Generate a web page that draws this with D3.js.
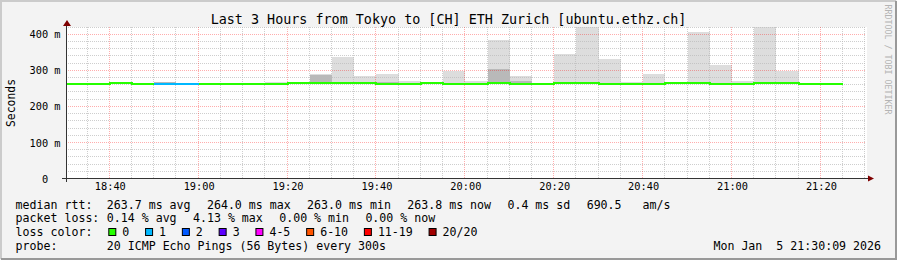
<!DOCTYPE html>
<html>
<head>
<meta charset="utf-8">
<script src="https://cdn.jsdelivr.net/npm/d3@7"></script>
<style>
  body { margin: 0; background: #f3f3f3; }
  svg { display: block; font-family: "DejaVu Sans Mono", monospace; }
  text { white-space: pre; }
</style>
</head>
<body>
<svg width="897" height="260" xml:space="preserve"></svg>
<script>
// 5 minute bins (start of step)
var binStarts = ["18:30","18:35","18:40","18:45","18:50","18:55","19:00","19:05","19:10","19:15",
                 "19:20","19:25","19:30","19:35","19:40","19:45","19:50","19:55","20:00","20:05",
                 "20:10","20:15","20:20","20:25","20:30","20:35","20:40","20:45","20:50","20:55",
                 "21:00","21:05","21:10","21:15","21:20"];
// median rtt in ms
var medianRtt = [263.3,263.3,264.0,263.3,263.2,263.2,263.3,263.3,263.3,263.3,
                 264.0,264.0,264.0,264.0,263.2,263.3,264.0,263.3,263.3,264.0,
                 263.3,263.3,264.0,264.0,263.3,263.3,263.3,264.0,264.0,263.2,
                 263.2,264.0,264.0,263.0,263.3];
// lost pings out of 20
var lossCount = [0,0,0,0,1,1,0,0,0,0, 0,0,0,0,0,0,0,0,0,0, 0,0,0,0,0,0,0,0,0,0, 0,0,0,0,0];
// smoke: highest ping (light) and dense band (dark), ms
var smokeTop = [null,null,null,null,268,null,null,null,null,267,
                null,290,337,284,290,270,null,299,271,383,
                284,null,345,425,331,268,290,null,406,315,
                270,425,299,null,null];
var smokeInner = [null,null,null,null,268,null,null,null,null,null,
                  null,288,null,null,268,null,null,null,null,303,
                  271,null,null,null,null,null,null,null,null,null,
                  null,null,null,null,null];

var yTickValues = [0, 100, 200, 300, 400];
var yTickLabels = ["0\u00a0\u00a0", "100 m", "200 m", "300 m", "400 m"];

var lossClasses = ["0", "1", "2", "3", "4-5", "6-10", "11-19", "20/20"];
var lossColors = ["#26ff00", "#00b8ff", "#0059ff", "#5e00ff", "#ff00ff", "#ff5500", "#ff0000", "#a10000"];

var rttStats = ["263.7 ms avg", "264.0 ms max", "263.0 ms min", "263.8 ms now", "0.4 ms sd", "690.5   am/s"];
var lossStats = ["0.14 % avg", "4.13 % max", "0.00 % min", "0.00 % now"];
var probeText = "20 ICMP Echo Pings (56 Bytes) every 300s";
var titleText = "Last 3 Hours from Tokyo to [CH] ETH Zurich [ubuntu.ethz.ch]";
var stampText = "Mon Jan  5 21:30:09 2026";

var svg = d3.select("svg"),
    W = 897, H = 260,
    plot = { left: 66, right: 866, top: 27, bottom: 178.5 };

var parse = d3.timeParse("%Y-%m-%d %H:%M:%S"),
    day = "2026-01-05 ";
var t0 = parse(day + "18:30:09"), t1 = parse(day + "21:30:09");

var x = d3.scaleTime().domain([t0, t1]).range([plot.left, plot.right]),
    y = d3.scaleLinear().domain([0, 420]).range([plot.bottom, plot.top]);

function crispX(v) { return Math.round(v) - 0.5; }
function crispY(v) { return Math.floor(v) + 0.5; }
function lossClass(n) {
  if (n <= 3) return n;
  if (n <= 5) return 4;
  if (n <= 10) return 5;
  if (n <= 19) return 6;
  return 7;
}
// keep runs of blanks in svg text
function keep(s) { return s.replace(/ /g, "\u00a0"); }

var bins = binStarts.map(function (s, i) {
  var st = parse(day + s + ":00");
  return {
    start: st,
    end: d3.timeMinute.offset(st, 5),
    median: medianRtt[i],
    loss: lossCount[i],
    top: smokeTop[i],
    inner: smokeInner[i]
  };
});

// background + frame
svg.append("rect").attr("width", W).attr("height", H).attr("fill", "#f3f3f3");
svg.append("path").attr("d", "M1,259 V1 H896").attr("fill", "none").attr("stroke", "#cbcbcb").attr("stroke-width", 2);
svg.append("path").attr("d", "M1,259 H896 V1").attr("fill", "none").attr("stroke", "#999").attr("stroke-width", 2);

// canvas
svg.append("rect")
  .attr("x", plot.left + 1).attr("y", plot.top)
  .attr("width", plot.right - plot.left).attr("height", plot.bottom - plot.top)
  .attr("fill", "#fff");

svg.append("defs").append("clipPath").attr("id", "clip")
  .append("rect")
  .attr("x", plot.left + 1).attr("y", plot.top)
  .attr("width", plot.right - plot.left).attr("height", plot.bottom - plot.top);

var g = svg.append("g").attr("clip-path", "url(#clip)");

// smoke
var smoke = g.append("g");
bins.forEach(function (d) {
  var x0 = Math.round(x(d.start)), x1 = Math.round(x(d.end)), yb = Math.round(y(d.median));
  if (d.top != null) {
    var yt = Math.round(y(d.top));
    smoke.append("rect").attr("x", x0).attr("y", yt).attr("width", x1 - x0).attr("height", yb - yt).attr("fill", "#dddddd");
  }
  if (d.inner != null) {
    var yi = Math.round(y(d.inner));
    smoke.append("rect").attr("x", x0).attr("y", yi).attr("width", x1 - x0).attr("height", yb - yi).attr("fill", "#b9b9b9");
  }
});

// grid
var grid = g.append("g").attr("fill", "none");
var minorT = d3.timeMinute.every(5).range(t0, t1).filter(function (t) { return t.getMinutes() % 20 !== 0; }),
    majorT = d3.timeMinute.every(20).range(t0, t1);
var minorV = d3.range(20, 421, 20).filter(function (v) { return v % 100 !== 0; }),
    majorV = [100, 200, 300, 400];
var minorColor = "rgba(185,185,185,0.7)", majorColor = "rgba(255,0,0,0.32)";

grid.selectAll(".mv").data(minorT).enter().append("line")
  .attr("x1", function (t) { return crispX(x(t)); }).attr("x2", function (t) { return crispX(x(t)); })
  .attr("y1", plot.top).attr("y2", plot.bottom)
  .attr("stroke", minorColor).attr("stroke-dasharray", "1,1");
grid.selectAll(".mh").data(minorV).enter().append("line")
  .attr("x1", plot.left).attr("x2", plot.right)
  .attr("y1", function (v) { return crispY(y(v)); }).attr("y2", function (v) { return crispY(y(v)); })
  .attr("stroke", minorColor).attr("stroke-dasharray", "1,1");
grid.selectAll(".Mv").data(majorT).enter().append("line")
  .attr("x1", function (t) { return crispX(x(t)); }).attr("x2", function (t) { return crispX(x(t)); })
  .attr("y1", plot.top).attr("y2", plot.bottom)
  .attr("stroke", majorColor).attr("stroke-dasharray", "1,1");
grid.selectAll(".Mh").data(majorV).enter().append("line")
  .attr("x1", plot.left).attr("x2", plot.right)
  .attr("y1", function (v) { return crispY(y(v)); }).attr("y2", function (v) { return crispY(y(v)); })
  .attr("stroke", majorColor).attr("stroke-dasharray", "1,1");

// median line
var pts = bins.map(function (d) { return [Math.round(x(d.start)), Math.round(y(d.median))]; });
var last = bins[bins.length - 1];
pts.push([Math.round(x(last.end)), Math.round(y(last.median))]);

g.append("path")
  .attr("d", d3.line().curve(d3.curveStepAfter)(pts))
  .attr("fill", "none").attr("stroke", lossColors[0]).attr("stroke-width", 2);

bins.forEach(function (d) {
  if (d.loss === 0) return;
  var yl = Math.round(y(d.median));
  g.append("line")
    .attr("x1", Math.round(x(d.start))).attr("x2", Math.round(x(d.end)))
    .attr("y1", yl).attr("y2", yl)
    .attr("stroke", lossColors[lossClass(d.loss)]).attr("stroke-width", 2);
});

// axes
var axisColor = "#333";
svg.append("line").attr("x1", plot.left - 4).attr("x2", plot.right + 2)
  .attr("y1", plot.bottom).attr("y2", plot.bottom).attr("stroke", axisColor);
svg.append("line").attr("x1", plot.left + 0.5).attr("x2", plot.left + 0.5)
  .attr("y1", plot.bottom + 3.5).attr("y2", plot.top - 1).attr("stroke", axisColor);
svg.append("path").attr("d", "M63,26 L67,20 L71,26 Z").attr("fill", "#7f0000");
svg.append("path").attr("d", "M868,175.5 L874,178.5 L868,181.5 Z").attr("fill", "#7f0000");

var xAxis = d3.axisBottom(x).tickValues(majorT).tickSize(0).tickPadding(4.5)
  .tickFormat(d3.timeFormat("%H:%M"));
var yAxis = d3.axisLeft(y).tickValues(yTickValues).tickSize(0).tickPadding(5)
  .tickFormat(function (v, i) { return yTickLabels[i]; });

svg.append("g").attr("transform", "translate(0," + plot.bottom + ")").call(xAxis)
  .call(function (a) { a.select(".domain").remove(); })
  .selectAll("text").attr("font-family", "DejaVu Sans Mono").attr("font-size", "10.3px").attr("fill", "#000");
svg.append("g").attr("transform", "translate(" + (plot.left - 0.5) + ",0.3)").call(yAxis)
  .call(function (a) { a.select(".domain").remove(); })
  .selectAll("text").attr("font-family", "DejaVu Sans Mono").attr("font-size", "10.3px").attr("fill", "#000");

// title, axis title, watermark
svg.append("text").attr("x", 448.5).attr("y", 24).attr("text-anchor", "middle")
  .attr("font-size", "13.4px").attr("fill", "#000").text(titleText);
svg.append("text").attr("transform", "translate(15,103) rotate(-90)").attr("text-anchor", "middle")
  .attr("font-size", "11.4px").attr("fill", "#000").text("Seconds");
svg.append("text").attr("transform", "translate(884.5,4.5) rotate(90)")
  .attr("font-size", "8.3px").attr("fill", "#b4b4b4").text("RRDTOOL / TOBI OETIKER");

// legend
var cw = 6.98, gap = 16.4, col0 = 15.6, col1 = 106.8, rowY = [208.5, 222.3, 236.1, 249.9];
var leg = svg.append("g").attr("font-size", "11.6px").attr("fill", "#000");

function statRow(label, items, yy) {
  leg.append("text").attr("x", col0).attr("y", yy).text(label);
  var xx = col1;
  items.forEach(function (s) {
    leg.append("text").attr("x", xx).attr("y", yy).text(keep(s));
    xx += s.length * cw + gap;
  });
}
statRow("median rtt:", rttStats, rowY[0]);
statRow("packet loss:", lossStats, rowY[1]);

leg.append("text").attr("x", col0).attr("y", rowY[2]).text("loss color:");
var lx = col1 + 1.5;
lossClasses.forEach(function (c, i) {
  leg.append("rect").attr("x", lx + 0.5).attr("y", rowY[2] - 7.6).attr("width", 7).attr("height", 7)
    .attr("fill", lossColors[i]).attr("stroke", "#000");
  leg.append("text").attr("x", lx + 14).attr("y", rowY[2]).text(c);
  lx += 14 + c.length * cw + 15.8;
});

leg.append("text").attr("x", col0).attr("y", rowY[3]).text("probe:");
leg.append("text").attr("x", col1).attr("y", rowY[3]).text(probeText);
leg.append("text").attr("x", 881).attr("y", rowY[3]).attr("text-anchor", "end").text(keep(stampText));
</script>
</body>
</html>
